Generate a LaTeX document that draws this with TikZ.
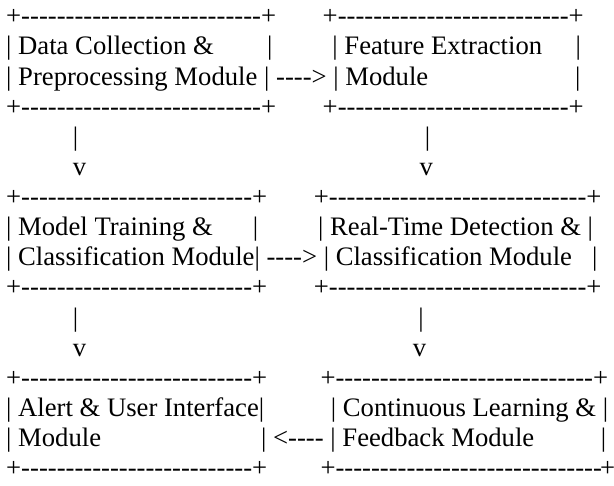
\documentclass[tikz,border=0pt]{standalone}
\usepackage{fontspec}
\newfontfamily\asciifont{Liberation Serif}[Ligatures=TeXOff]

% runs of hyphens and of blank spaces
\newcommand\dsh[1]{\foreach\k in {1,...,#1}{-}}
\newcommand\spc[1]{\hspace*{#1\fontdimen2\font}}

\tikzset{
  txtrow/.style={anchor=base west,inner sep=0pt,
    font=\asciifont\fontsize{26.67pt}{30.13pt}\selectfont}
}

\begin{document}
\begin{tikzpicture}[x=1pt,y=-1pt]
  \useasboundingbox (0,0) rectangle (614,486);
  % top pair: collection and feature extraction
  \node[txtrow] (r1) at (6,24.8) {+\dsh{27}+\spc{7}+\dsh{26}+};
  \node[txtrow] (r2) at (6,54.93) {| Data Collection \&\spc{8}|\spc{9}| Feature Extraction\spc{5}|};
  \node[txtrow] (r3) at (6,85.06) {| Preprocessing Module | ----> | Module\spc{22}|};
  \node[txtrow] (r4) at (6,115.19) {+\dsh{27}+\spc{7}+\dsh{26}+};
  \node[txtrow] (r5) at (6,145.32) {\spc{10}|\spc{52}|};
  \node[txtrow] (r6) at (6,175.45) {\spc{10}v\spc{50}v};
  % middle pair: training and real-time detection
  \node[txtrow] (r7) at (6,205.58) {+\dsh{26}+\spc{7}+\dsh{29}+};
  \node[txtrow] (r8) at (6,235.71) {| Model Training \&\spc{6}|\spc{9}| Real-Time Detection \& |};
  \node[txtrow] (r9) at (6,265.84) {| Classification Module| ----> | Classification Module\spc{3}|};
  \node[txtrow] (r10) at (6,295.97) {+\dsh{26}+\spc{7}+\dsh{29}+};
  \node[txtrow] (r11) at (6,326.10) {\spc{10}|\spc{51}|};
  \node[txtrow] (r12) at (6,356.23) {\spc{10}v\spc{49}v};
  % bottom pair: alerts and continuous learning
  \node[txtrow] (r13) at (6,386.36) {+\dsh{26}+\spc{8}+\dsh{29}+};
  \node[txtrow] (r14) at (6,416.49) {| Alert \& User Interface|\spc{10}| Continuous Learning \& |};
  \node[txtrow] (r15) at (6,446.62) {| Module\spc{24}| <---- | Feedback Module\spc{10}|};
  \node[txtrow] (r16) at (6,476.75) {+\dsh{26}+\spc{8}+\dsh{30}\kern-2pt+};
\end{tikzpicture}
\end{document}
